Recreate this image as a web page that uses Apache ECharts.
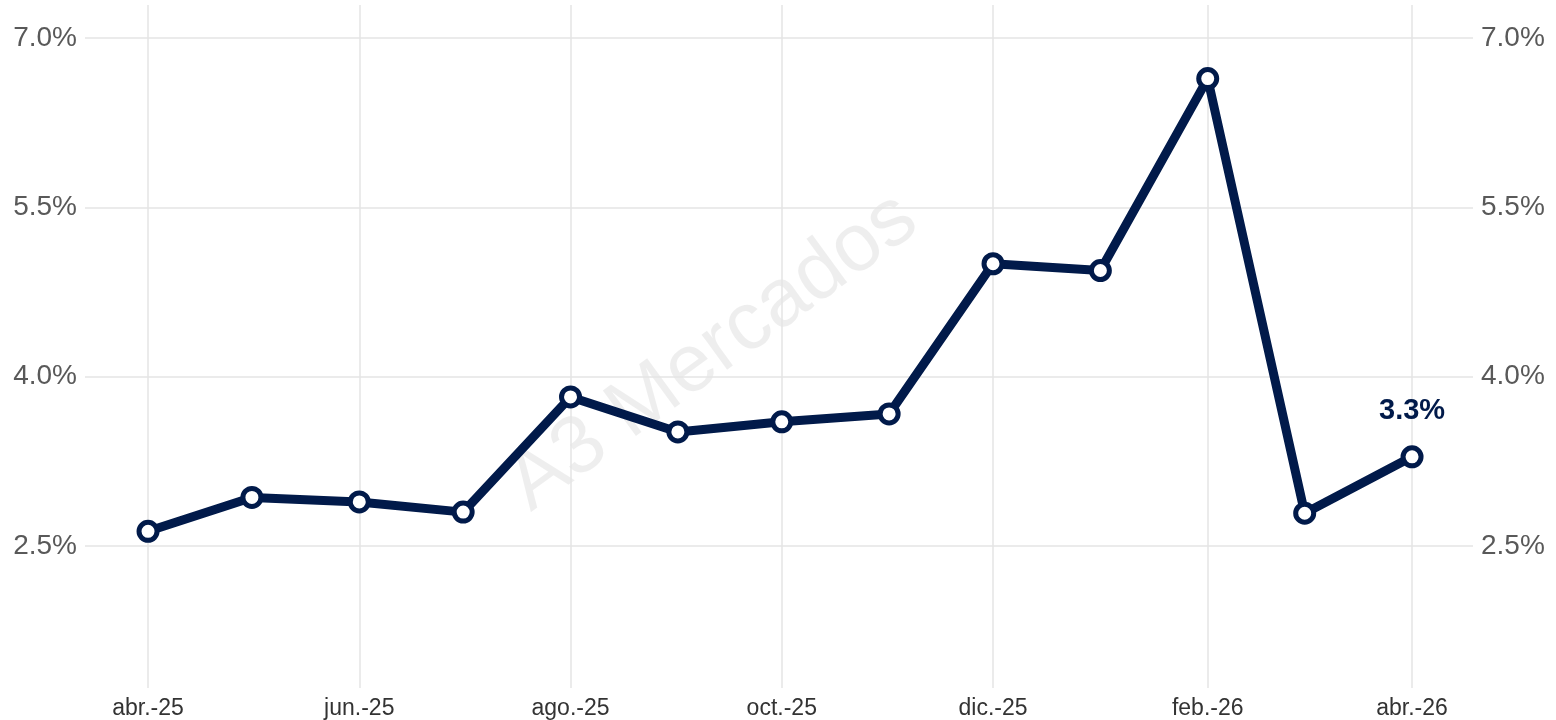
<!DOCTYPE html>
<html>
<head>
<meta charset="utf-8">
<title>A3 Mercados</title>
<script src="https://cdn.jsdelivr.net/npm/echarts@6/dist/echarts.min.js"></script>
<style>
  html, body { margin: 0; padding: 0; background: #fff; }
  #chart { width: 1556px; height: 720px; }
</style>
</head>
<body>
<div id="chart"></div>
<script>
// datos mensuales (primer día de cada mes)
var dates = ['2025-04-01', '2025-05-01', '2025-06-01', '2025-07-01', '2025-08-01', '2025-09-01',
  '2025-10-01', '2025-11-01', '2025-12-01', '2026-01-01', '2026-02-01', '2026-03-01', '2026-04-01'];
var values = [2.63, 2.93, 2.89, 2.80, 3.82, 3.51, 3.60, 3.67, 5.00, 4.94, 6.64, 2.79, 3.29];
var yTicks = [2.5, 4.0, 5.5, 7.0];
var xTicks = ['2025-04-01', '2025-06-01', '2025-08-01', '2025-10-01', '2025-12-01', '2026-02-01', '2026-04-01'];
var monthNames = ['ene.', 'feb.', 'mar.', 'abr.', 'may.', 'jun.', 'jul.', 'ago.', 'sep.', 'oct.', 'nov.', 'dic.'];

var navy = '#011a4a';
var font = '"Liberation Sans", Arial, sans-serif';

function toTime(s) {
  var p = s.split('-');
  return Date.UTC(+p[0], +p[1] - 1, +p[2]);
}
var DAY = 86400000;

var seriesData = dates.map(function (d, i) {
  var item = { value: [toTime(d), values[i]] };
  // solo el último punto lleva etiqueta
  if (i === dates.length - 1) {
    item.label = {
      show: true,
      position: 'top',
      distance: 20,
      formatter: function (p) { return p.value[1].toFixed(1) + '%'; },
      color: navy,
      fontWeight: 'bold',
      fontSize: 29,
      fontFamily: font
    };
  }
  return item;
});

function yLabel(v) { return v.toFixed(1) + '%'; }

var yAxisBase = {
  type: 'value',
  min: 1.242,
  max: 7.292,
  axisLine: { show: false },
  axisTick: { show: false, customValues: yTicks },
  axisLabel: {
    customValues: yTicks,
    formatter: yLabel,
    color: '#595959',
    fontSize: 28,
    fontFamily: font,
    margin: 8
  }
};

var xTickTimes = xTicks.map(toTime);

var myChart = echarts.init(document.getElementById('chart'));
var option = {
  animation: false,
  backgroundColor: '#fff',
  grid: { left: 85, right: 83, top: 5, bottom: 32, containLabel: false },
  xAxis: {
    type: 'value',
    min: toTime(dates[0]) - 18.2 * DAY,
    max: toTime(dates[dates.length - 1]) + 17.6 * DAY,
    axisLine: { show: false },
    axisTick: { show: false, customValues: xTickTimes },
    axisLabel: {
      customValues: xTickTimes,
      formatter: function (v) {
        var d = new Date(v);
        return monthNames[d.getUTCMonth()] + '-' + String(d.getUTCFullYear()).slice(2);
      },
      color: '#333333',
      fontSize: 23,
      fontFamily: font,
      margin: 9,
      hideOverlap: false
    },
    splitLine: { show: true, lineStyle: { color: '#e5e5e5', width: 1.5 } }
  },
  yAxis: [
    Object.assign({}, yAxisBase, {
      position: 'left',
      splitLine: { show: true, lineStyle: { color: '#e5e5e5', width: 1.5 } }
    }),
    Object.assign({}, yAxisBase, {
      position: 'right',
      splitLine: { show: false }
    })
  ],
  graphic: [{
    type: 'text',
    x: 713,
    y: 352,
    rotation: 36 * Math.PI / 180,
    z: 0,
    silent: true,
    style: {
      text: 'A3 Mercados',
      fontSize: 82,
      fontFamily: font,
      fill: 'rgba(0,0,0,0.065)',
      align: 'center',
      verticalAlign: 'middle'
    }
  }],
  series: [{
    type: 'line',
    yAxisIndex: 0,
    data: seriesData,
    symbol: 'circle',
    symbolSize: 18,
    showAllSymbol: true,
    lineStyle: { color: navy, width: 9 },
    itemStyle: { color: '#ffffff', borderColor: navy, borderWidth: 5 },
    z: 3
  }]
};
myChart.setOption(option);
window.addEventListener('resize', function () { myChart.resize(); });
</script>
</body>
</html>
